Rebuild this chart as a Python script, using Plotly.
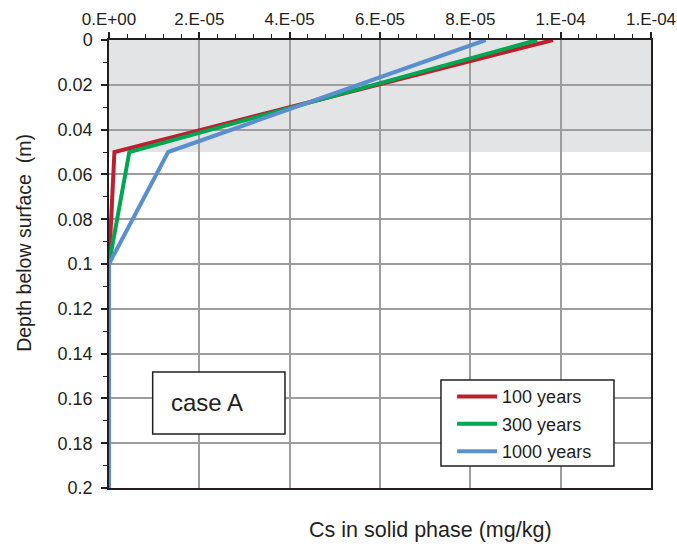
import plotly.graph_objects as go

# Data
depth_m = [0.0, 0.05, 0.10, 0.15, 0.20]
cs_100_years = [9.83e-5, 0.12e-5, 0.0, 0.0, 0.0]
cs_300_years = [9.48e-5, 0.45e-5, 0.0, 0.0, 0.0]
cs_1000_years = [8.34e-5, 1.31e-5, 0.0, 0.0, 0.0]

x_tick_vals = [0, 2e-5, 4e-5, 6e-5, 8e-5, 1e-4, 1.2e-4]
x_tick_text = ["0.E+00", "2.E-05", "4.E-05", "6.E-05", "8.E-05", "1.E-04", "1.E-04"]
y_tick_vals = [0, 0.02, 0.04, 0.06, 0.08, 0.1, 0.12, 0.14, 0.16, 0.18, 0.2]
y_tick_text = ["0", "0.02", "0.04", "0.06", "0.08", "0.1", "0.12", "0.14", "0.16", "0.18", "0.2"]

series = [
    ("100 years", cs_100_years, "#be1e2d"),
    ("300 years", cs_300_years, "#00a651"),
    ("1000 years", cs_1000_years, "#5a8fcf"),
]

FONT = "Liberation Sans, Arial, sans-serif"
TXT = "#231f20"

fig = go.Figure()
for i, (name, vals, col) in enumerate(series):
    fig.add_trace(go.Scatter(
        x=vals, y=depth_m, mode="lines", name=name,
        line=dict(color=col, width=4), legendgroup=name,
    ))

# grey surface layer band 0-0.05 m
fig.add_shape(type="rect", xref="x", yref="y", x0=0, x1=1.2e-4, y0=0, y1=0.05,
              fillcolor="#e3e4e6", line=dict(width=0), layer="below")

# "case A" box
fig.add_shape(type="rect", xref="paper", yref="paper",
              x0=0.0806, x1=0.3247, y0=0.1205, y1=0.259,
              fillcolor="white", line=dict(color="#231f20", width=1.5), layer="above")
fig.add_annotation(text="case A", xref="paper", yref="paper", x=0.181, y=0.19,
                   xanchor="center", yanchor="middle", showarrow=False,
                   font=dict(family=FONT, size=24, color=TXT))

# legend frame
fig.add_shape(type="rect", xref="paper", yref="paper",
              x0=0.6125, x1=0.9317, y0=0.049, y1=0.241,
              fillcolor="white", line=dict(color="#231f20", width=1.5), layer="above")

fig.add_annotation(text="Cs in solid phase (mg/kg)", xref="paper", yref="paper",
                   x=0.594, y=-0.094, xanchor="center", yanchor="middle", showarrow=False,
                   font=dict(family=FONT, size=21.5, color=TXT))
fig.add_annotation(text="Depth below surface  (m)", xref="paper", yref="paper",
                   x=-0.157, y=0.547, xanchor="center", yanchor="middle",
                   textangle=-90, showarrow=False,
                   font=dict(family=FONT, size=19.5, color=TXT))

fig.update_layout(
    template="none",
    width=677, height=550,
    margin=dict(l=109, r=26, t=40, b=62, autoexpand=False),
    paper_bgcolor="white", plot_bgcolor="white",
    font=dict(family=FONT, size=18, color=TXT),
    showlegend=True,
    legend=dict(x=0.633, y=0.245, xanchor="left", yanchor="top",
                bgcolor="rgba(0,0,0,0)", borderwidth=0, itemwidth=40,
                font=dict(family=FONT, size=18, color=TXT),
                tracegroupgap=1, traceorder="grouped"),
    xaxis=dict(
        side="top", range=[0, 1.2e-4], tickvals=x_tick_vals, ticktext=x_tick_text,
        showgrid=True, gridcolor="#9d9d9d", gridwidth=1.5, automargin=False,
        showline=True, linecolor="#231f20", linewidth=1.5, mirror=True,
        ticks="outside", ticklen=6, tickcolor="#231f20", tickwidth=1.5,
        minor=dict(dtick=0.4e-5, tick0=0, ticks="outside", ticklen=4,
                   tickcolor="#231f20", tickwidth=1, showgrid=False),
        zeroline=False, tickfont=dict(size=17),
    ),
    yaxis=dict(
        range=[0.2, 0], autorange=False, tickvals=y_tick_vals, ticktext=y_tick_text,
        showgrid=True, gridcolor="#9d9d9d", gridwidth=1.5, automargin=False,
        showline=True, linecolor="#231f20", linewidth=1.5, mirror=True,
        ticks="outside", ticklen=6, tickcolor="#231f20", tickwidth=1.5,
        minor=dict(dtick=0.01, tick0=0, ticks="outside", ticklen=4,
                   tickcolor="#231f20", tickwidth=1, showgrid=False),
        zeroline=False, tickfont=dict(size=18), layer="below traces",
        ticklabelstandoff=5,
    ),
)

fig.write_html("out.html")
